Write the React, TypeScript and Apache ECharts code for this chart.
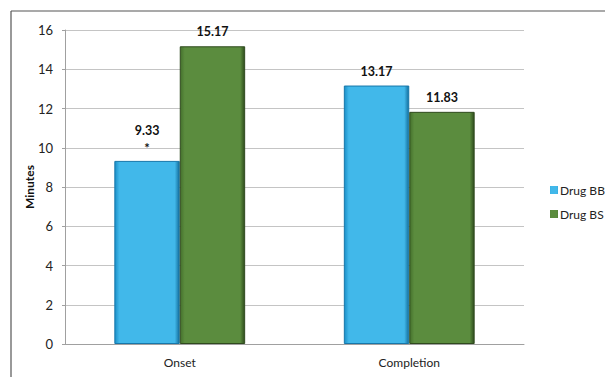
import React, { useEffect, useRef } from "react";
import * as echarts from "echarts";

const categories = ["Onset", "Completion"];
const drugBB = [9.33, 13.17];
const drugBS = [15.17, 11.83];
const seriesNames = ["Drug BB", "Drug BS"];
const significance = [{ category: 0, value: 9.33, mark: "*" }];
const yTicks = { min: 0, max: 16, interval: 2 };
const FONT = "Lato, 'Open Sans', sans-serif";

export default function App() {
  const ref = useRef<HTMLDivElement>(null);
  useEffect(() => {
    if (!ref.current) return;
    const chart = echarts.init(ref.current, undefined, { renderer: "svg" });
    const grad = (edge1: string, mid: string, edge2: string) =>
      new echarts.graphic.LinearGradient(0, 0, 1, 0, [
        { offset: 0, color: edge1 },
        { offset: 0.07, color: mid },
        { offset: 0.93, color: mid },
        { offset: 1, color: edge2 },
      ]);
    const blue = grad("#1a8fc8", "#41b8ea", "#146f9e");
    const green = grad("#44702c", "#5b8c3e", "#2f4c1d");
    const labelStyle = {
      show: true,
      position: "top" as const,
      distance: 8,
      fontWeight: "bold" as const,
      fontSize: 12.5,
      color: "#111",
      fontFamily: FONT,
    };
    chart.setOption({
      animation: false,
      backgroundColor: "#fff",
      graphic: [
        { type: "line", shape: { x1: 11, y1: 11, x2: 605, y2: 11 }, style: { stroke: "#555", lineWidth: 1.2 } },
        { type: "line", shape: { x1: 11, y1: 11, x2: 11, y2: 377 }, style: { stroke: "#555", lineWidth: 1.2 } },
      ],
      grid: { left: 65, right: 81, top: 30, bottom: 33 },
      legend: {
        orient: "vertical",
        left: 545,
        top: 179,
        itemWidth: 8,
        itemHeight: 8,
        itemGap: 12,
        icon: "rect",
        itemStyle: { borderWidth: 0 },
        textStyle: { fontSize: 12, color: "#222", fontFamily: FONT, padding: [0, 0, 0, -3] },
        data: seriesNames,
      },
      xAxis: {
        type: "category",
        data: categories,
        axisLine: { lineStyle: { color: "#a0a0a0" } },
        axisTick: { show: false },
        axisLabel: { fontSize: 12, color: "#222", margin: 12, fontFamily: FONT },
      },
      yAxis: {
        type: "value",
        min: yTicks.min,
        max: yTicks.max,
        interval: yTicks.interval,
        name: "Minutes",
        nameLocation: "middle",
        nameGap: 36,
        nameMoveOverlap: false,
        nameRotate: 90,
        nameTextStyle: { fontSize: 12, fontWeight: "bold", color: "#111", fontFamily: FONT, verticalAlign: "middle" },
        axisLine: { show: true, lineStyle: { color: "#a0a0a0" } },
        axisTick: { show: true, length: 3, lineStyle: { color: "#a0a0a0" } },
        axisLabel: { fontSize: 13, color: "#222", margin: 12, fontFamily: FONT },
        splitLine: { lineStyle: { color: "#c4c4c4" } },
      },
      series: [
        {
          name: seriesNames[0],
          type: "bar",
          data: drugBB.map((v, i) =>
            significance.some((s) => s.category === i)
              ? { value: v, label: { distance: 24 } }
              : v
          ),
          barWidth: "28.5%",
          barGap: "0%",
          itemStyle: { color: blue, borderColor: "#1677aa", borderWidth: 1 },
          label: labelStyle,
          markPoint: {
            symbol: "circle",
            symbolSize: 0,
            data: significance.map((s) => ({
              coord: [s.category, s.value],
              value: s.mark,
              label: {
                show: true,
                position: "top",
                distance: 6,
                formatter: s.mark,
                fontWeight: "bold",
                fontSize: 13,
                color: "#111",
                fontFamily: FONT,
              },
            })),
          },
        },
        {
          name: seriesNames[1],
          type: "bar",
          data: drugBS,
          barWidth: "28.5%",
          itemStyle: { color: green, borderColor: "#2f4a1e", borderWidth: 1 },
          label: labelStyle,
        },
      ],
    });
    return () => chart.dispose();
  }, []);
  return (
    <div
      ref={ref}
      style={{ position: "fixed", left: 0, top: 0, width: 605, height: 377 }}
    />
  );
}
